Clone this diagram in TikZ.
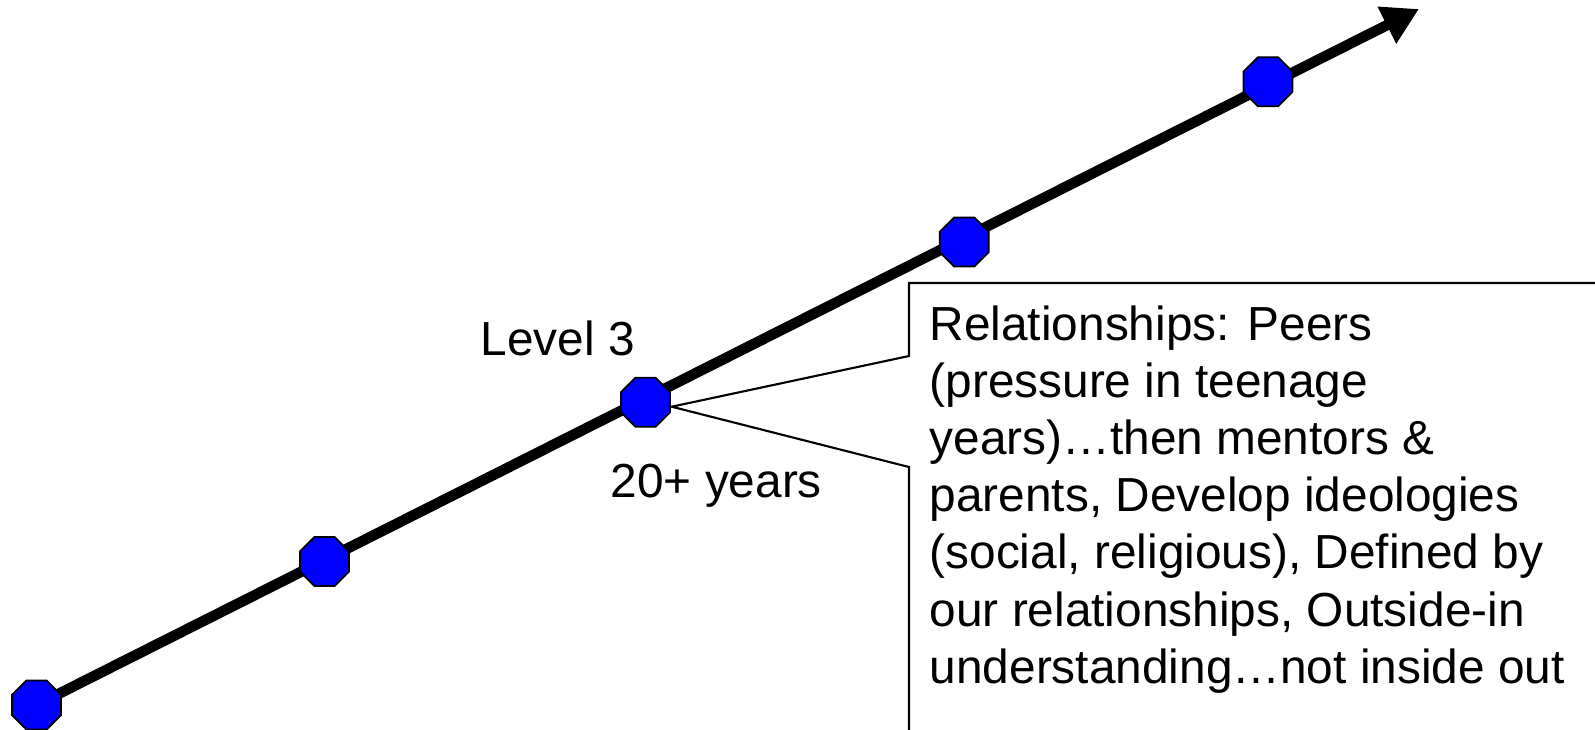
\documentclass[tikz,border=0pt]{standalone}
\usepackage{fontspec}
\setmainfont{Liberation Sans}
\usetikzlibrary{arrows.meta,shapes.geometric}
\tikzset{
  stage/.style={regular polygon, regular polygon sides=8, minimum size=5.3mm, inner sep=0pt, draw=black, line width=0.5pt, fill=blue},
  lbl/.style={font=\fontsize{13.6pt}{16.27pt}\selectfont, inner sep=0pt},
}
\begin{document}
\begin{tikzpicture}
  \useasboundingbox (0,0) rectangle (15.95,7.29);
  \clip (0,0) rectangle (15.95,7.29);

  % Pontos
  \coordinate (start) at (0.365,0.24);
  \coordinate (tip) at (14.19,7.20);
  \coordinate (apex) at (6.717,3.223);

  % Linha
  \draw[line width=1.05mm, -{Triangle[length=3.6mm,width=3.9mm]}] (start) -- (tip);

  % Etapas
  \node[stage] (o1) at (start) {};
  \node[stage] (o2) at (3.245,1.675) {};
  \node[stage] (o3) at (6.455,3.267) {};
  \node[stage] (o4) at (9.643,4.87) {};
  \node[stage] (o5) at (12.68,6.473) {};

  % Rotulos
  \node[lbl, anchor=base west] (lvl) at (4.80,3.74) {Level 3};
  \node[lbl, anchor=base west] (age) at (6.10,2.313) {20+ years};

  % Balao
  \draw[line width=0.6pt] (16.2,4.46) -- (9.09,4.46) -- (9.09,3.73) -- (apex) -- (9.09,2.62) -- (9.09,-0.2);
  \node[lbl, anchor=base west, align=left] (info) at (9.29,0.457) {Relationships: Peers\\
    (pressure in teenage\\
    years)…then mentors \&\\
    parents, Develop ideologies\\
    (social, religious), Defined by\\
    our relationships, Outside-in\\
    understanding…not inside out};
\end{tikzpicture}
\end{document}
